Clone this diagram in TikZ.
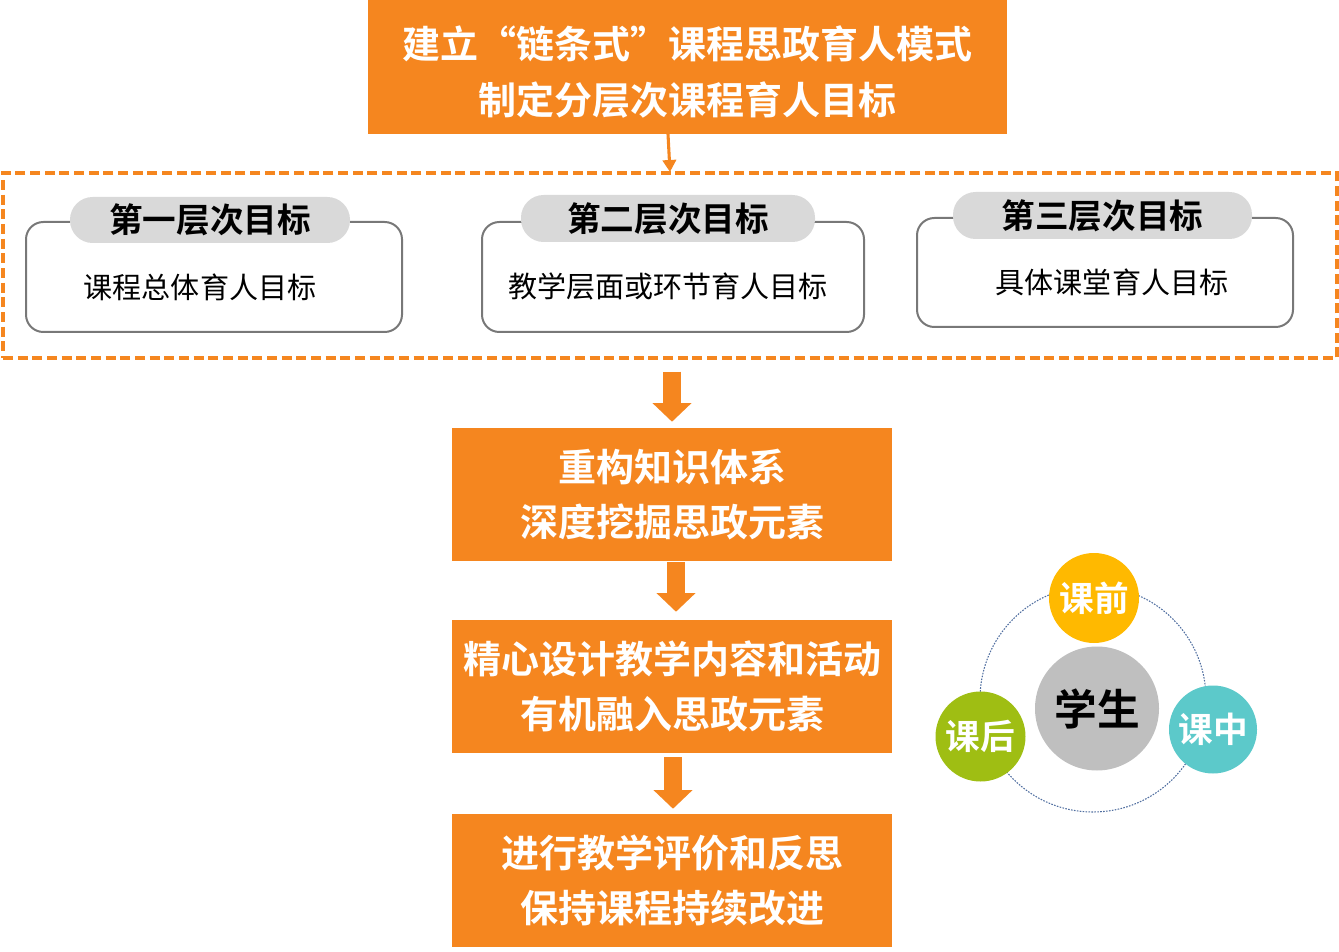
\documentclass[tikz,border=0pt]{standalone}
\usepackage{fontspec}
\setmainfont{Noto Sans CJK SC}
\newfontfamily\cjkb{Noto Sans CJK SC Bold}
\usetikzlibrary{arrows.meta,calc}
\definecolor{org}{RGB}{245,134,31}
\definecolor{pillg}{RGB}{217,217,217}
\definecolor{boxg}{RGB}{120,120,120}
\definecolor{cyel}{RGB}{255,185,0}
\definecolor{cteal}{RGB}{92,201,202}
\definecolor{cgrn}{RGB}{159,190,19}
\definecolor{cgry}{RGB}{191,191,191}
\definecolor{ringc}{RGB}{80,110,160}
\tikzset{
  orangebox/.style={fill=org, draw=none, text=white, align=center,
    font=\cjkb\fontsize{28.5}{41.5}\selectfont, inner sep=0pt},
  levelbox/.style={draw=boxg, line width=1.5pt, rounded corners=13pt, fill=white},
  pill/.style={fill=pillg, draw=none, rounded corners=17pt, inner sep=0pt,
    font=\cjkb\fontsize{25.2}{28}\selectfont},
  bodytxt/.style={font=\fontsize{21.8}{24}\selectfont, inner sep=0pt},
  blockarrow/.style={draw=org, line width=13.5pt,
    -{Triangle[width=28.5pt,length=14pt]}},
  phase/.style={circle, draw=none, text=white, inner sep=0pt,
    font=\cjkb\fontsize{26}{28}\selectfont},
}
\begin{document}
\begin{tikzpicture}[x=0.75pt,y=-0.75pt]
\useasboundingbox (0,0) rectangle (1339,952);
% top box
\node[orangebox, minimum width=639*0.75pt, minimum height=134*0.75pt] (top) at (687.5,67) {};
\node[orangebox, fill=none] (toptxt) at (687.5,72)
  {建立“链条式”课程思政育人模式\\制定分层次课程育人目标};
% dashed container
\node[draw=org, line width=2.3pt, dash pattern=on 7.5pt off 3.5pt,
  minimum width=1334*0.75pt, minimum height=185*0.75pt, inner sep=0pt] (dash) at (670,265.5) {};
\coordinate (tstart) at (668,134);
\coordinate (tend) at (670,172);
\draw[draw=org, line width=2.3pt, -{Triangle[width=10pt,length=9pt]}] (tstart) -- (tend);
% level boxes
\node[levelbox, minimum width=376*0.75pt, minimum height=110*0.75pt] (b1) at (214,277) {};
\node[levelbox, minimum width=382*0.75pt, minimum height=110*0.75pt] (b2) at (673,277) {};
\node[levelbox, minimum width=376*0.75pt, minimum height=109*0.75pt] (b3) at (1105,272.5) {};
\node[pill, minimum width=280*0.75pt, minimum height=46*0.75pt] (p1) at (210,220) {第一层次目标};
\node[pill, minimum width=294*0.75pt, minimum height=47*0.75pt] (p2) at (668,218.5) {第二层次目标};
\node[pill, minimum width=299*0.75pt, minimum height=47*0.75pt] (p3) at (1102.5,215.5) {第三层次目标};
\node[bodytxt] (t1) at (200,287) {课程总体育人目标};
\node[bodytxt] (t2) at (668,286) {教学层面或环节育人目标};
\node[bodytxt] (t3) at (1112,282) {具体课堂育人目标};
% flow boxes
\node[orangebox, minimum width=440*0.75pt, minimum height=133*0.75pt] (s2) at (672,494.5)
  {重构知识体系\\深度挖掘思政元素};
\node[orangebox, minimum width=440*0.75pt, minimum height=133*0.75pt] (s3) at (672,686.5)
  {精心设计教学内容和活动\\有机融入思政元素};
\node[orangebox, minimum width=440*0.75pt, minimum height=133*0.75pt] (s4) at (672,880.5)
  {进行教学评价和反思\\保持课程持续改进};
% block arrows
\draw[blockarrow, shorten <=9pt, shorten >=4.5pt] (dash.south -| s2.north) -- (s2.north);
\draw[blockarrow, shorten <=0.5pt, shorten >=6pt] ($(s2.south)+(4,0)$) -- ($(s3.north)+(4,0)$);
\draw[blockarrow, shorten <=3pt, shorten >=3.75pt] ($(s3.south)+(1,0)$) -- ($(s4.north)+(1,0)$);
% cycle
\node[circle, draw=ringc, line width=0.8pt, dash pattern=on 1.2pt off 1pt,
  minimum size=226*0.75pt, inner sep=0pt] (ring) at (1093,699) {};
\node[circle, fill=cgry, minimum size=124*0.75pt, inner sep=0pt,
  font=\cjkb\fontsize{32}{34}\selectfont] (stu) at (1097,708.5) {学生};
\node[phase, fill=cyel, minimum size=90*0.75pt] (pre) at (1094,598) {课前};
\node[phase, fill=cteal, minimum size=88*0.75pt] (mid) at (1213,729.5) {课中};
\node[phase, fill=cgrn, minimum size=90*0.75pt] (post) at (980.5,736.5) {课后};
\end{tikzpicture}
\end{document}
